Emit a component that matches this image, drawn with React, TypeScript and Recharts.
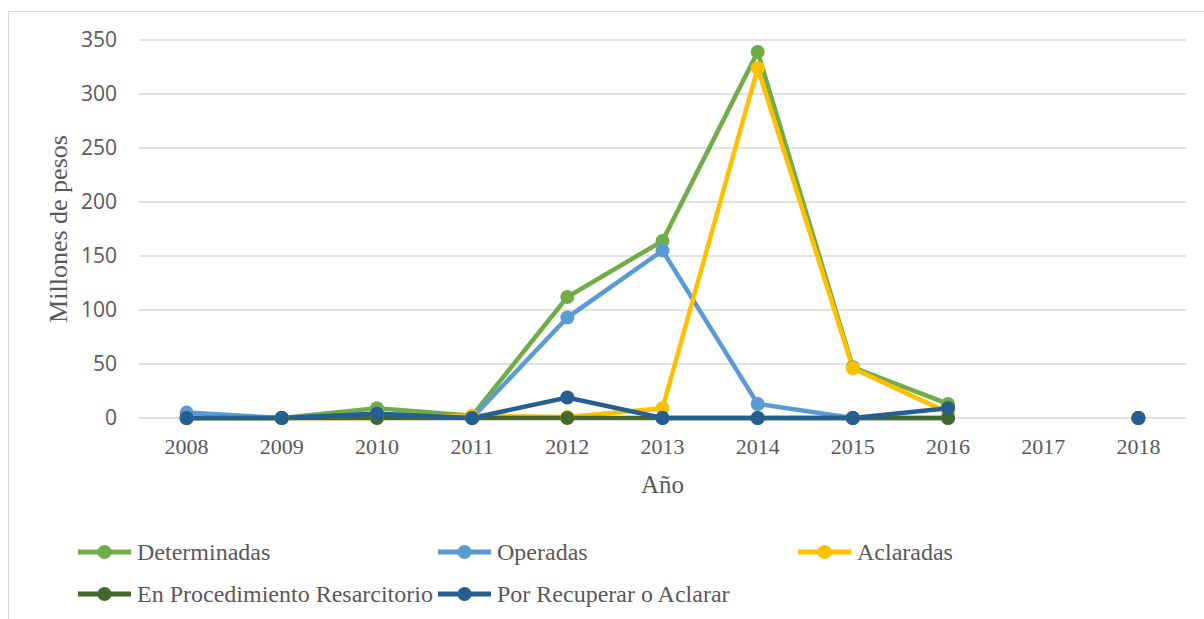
import { CartesianGrid, Line, LineChart, XAxis, YAxis } from "recharts";

const ANIOS = ["2008", "2009", "2010", "2011", "2012", "2013", "2014", "2015", "2016", "2017", "2018"];
const DETERMINADAS = [0, 0, 9, 2, 112, 164, 339, 47, 13, null, 0];
const OPERADAS = [5, 0, 4, 0, 93, 155, 13, 0, 0, null, 0];
const ACLARADAS = [0, 0, 0, 2, 1, 9, 324, 46, 5, null, 0];
const EN_PROCEDIMIENTO = [0, 0, 0, 0, 0, 0, 0, 0, 0, null, 0];
const POR_RECUPERAR = [0, 0, 4, 0, 19, 0, 0, 0, 9, null, 0];
const TICKS_Y = [0, 50, 100, 150, 200, 250, 300, 350];

const SERIES = [
  { key: "determinadas", nombre: "Determinadas", color: "#70AD47", valores: DETERMINADAS },
  { key: "operadas", nombre: "Operadas", color: "#5B9BD5", valores: OPERADAS },
  { key: "aclaradas", nombre: "Aclaradas", color: "#FFC000", valores: ACLARADAS },
  { key: "procedimiento", nombre: "En Procedimiento Resarcitorio", color: "#43682B", valores: EN_PROCEDIMIENTO },
  { key: "recuperar", nombre: "Por Recuperar o Aclarar", color: "#255E91", valores: POR_RECUPERAR },
];

const datos = ANIOS.map((anio, i) => {
  const fila: Record<string, string | number | null> = { anio };
  SERIES.forEach((s) => (fila[s.key] = s.valores[i]));
  return fila;
});

const GRIS = "#595959";
const SERIF = "Liberation Serif";

function Leyenda() {
  return (
    <div
      style={{
        position: "absolute",
        left: 78,
        top: 541,
        display: "grid",
        gridTemplateColumns: "360px 360px 360px",
        rowGap: 20,
        fontFamily: SERIF,
        fontSize: 24,
        color: GRIS,
      }}
    >
      {SERIES.map((s) => (
        <div key={s.key} style={{ display: "flex", alignItems: "center", height: 22, whiteSpace: "nowrap" }}>
          <svg width={53} height={16} style={{ marginRight: 6, flex: "none" }}>
            <line x1={0} y1={8} x2={53} y2={8} stroke={s.color} strokeWidth={5} />
            <circle cx={26.5} cy={8} r={7} fill={s.color} />
          </svg>
          <span>{s.nombre}</span>
        </div>
      ))}
    </div>
  );
}

export default function App() {
  return (
    <div style={{ position: "absolute", left: 0, top: 0, width: 1204, height: 619, background: "#fff", overflow: "hidden" }}>
      <div
        style={{
          position: "absolute",
          left: 8,
          top: 11,
          width: 1196,
          height: 608,
          borderLeft: "1px solid #d9d9d9",
          borderTop: "1px solid #d9d9d9",
        }}
      />
      <LineChart width={1204} height={619} data={datos} margin={{ top: 40, right: 18, left: 0, bottom: 121 }}>
        <CartesianGrid vertical={false} stroke="#d9d9d9" strokeWidth={1.5} />
        <XAxis
          dataKey="anio"
          height={80}
          padding={{ left: 47.6, right: 47.6 }}
          axisLine={false}
          tickLine={false}
          tickMargin={14}
          interval={0}
          tick={{ fill: GRIS, fontSize: 22, fontFamily: SERIF }}
          label={{ value: "Año", position: "insideBottom", offset: 5, fill: GRIS, fontSize: 25, fontFamily: SERIF }}
        />
        <YAxis
          width={139}
          domain={[0, 350]}
          ticks={TICKS_Y}
          axisLine={false}
          tickLine={false}
          tickMargin={16}
          tick={{ fill: GRIS, fontSize: 21, fontFamily: "Open Sans" }}
          label={{
            value: "Millones de pesos",
            angle: -90,
            position: "insideLeft",
            offset: 58,
            fill: GRIS,
            fontSize: 26,
            fontFamily: SERIF,
            style: { textAnchor: "middle" },
          }}
        />
        {SERIES.map((s) => (
          <Line
            key={s.key}
            dataKey={s.key}
            name={s.nombre}
            type="linear"
            stroke={s.color}
            strokeWidth={4.5}
            dot={{ r: 7, fill: s.color, stroke: s.color, strokeWidth: 0 }}
            activeDot={false}
            isAnimationActive={false}
          />
        ))}
      </LineChart>
      <Leyenda />
    </div>
  );
}
